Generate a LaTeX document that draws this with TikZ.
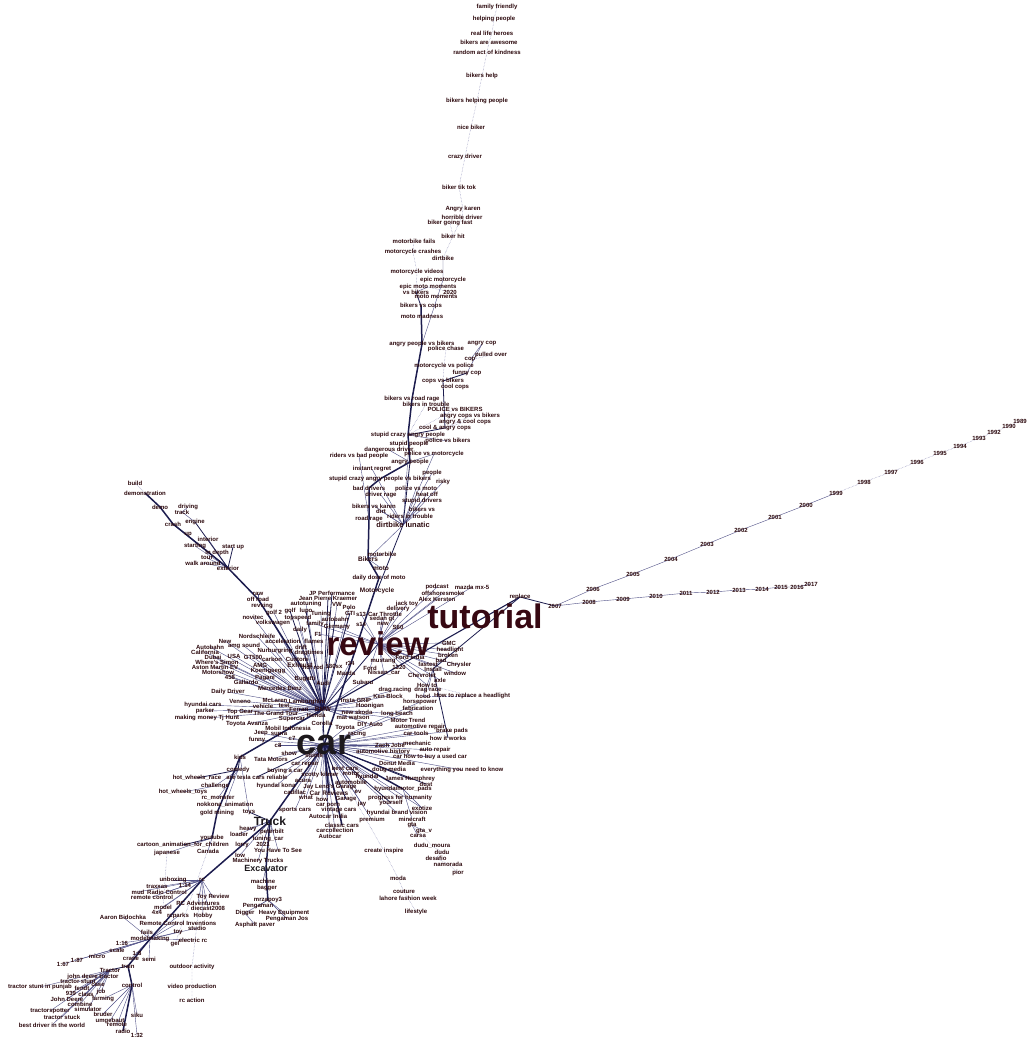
\documentclass[tikz,border=0pt]{standalone}
\usepackage{fontspec}
\setmainfont{Liberation Sans}
\usetikzlibrary{backgrounds}
\definecolor{tagtext}{RGB}{45,10,14}
\definecolor{hubtext}{RGB}{55,8,18}
\definecolor{cartext}{RGB}{28,24,28}
\definecolor{edgedark}{RGB}{28,28,78}
\definecolor{edgemid}{RGB}{80,80,135}
\definecolor{edgelight}{RGB}{130,130,178}
\tikzset{
  tag/.style={inner sep=0pt, text=tagtext, font=\bfseries\fontsize{6}{6}\selectfont},
  midtag/.style={tag, font=\bfseries\fontsize{7.5}{7.5}\selectfont},
  hub/.style={inner sep=0pt, text=hubtext, font=\bfseries\fontsize{33}{33}\selectfont},
  faintedge/.style={draw=edgelight, line width=0.45pt, densely dotted},
  thinedge/.style={draw=edgemid, line width=0.4pt},
  midedge/.style={draw=edgedark, line width=0.8pt},
  thickedge/.style={draw=edgedark, line width=1.5pt},
}
\begin{document}
\begin{tikzpicture}[x=1pt,y=-1pt]
        \useasboundingbox (0,0) rectangle (1035,1048);

        % hubs
        \node[inner sep=0pt, text=cartext, font=\bfseries\fontsize{36}{36}\selectfont] (car) at (324,745) {car};
        \node[hub] (review) at (378,644) {review};
        \node[hub, font=\bfseries\fontsize{34}{34}\selectfont] (tutorial) at (485,616) {tutorial};
        \node[tag, text=cartext, font=\bfseries\fontsize{12}{12}\selectfont] (truck) at (270,821) {Truck};
        \node[tag, text=cartext, font=\bfseries\fontsize{9}{9}\selectfont] (excavator) at (266,868) {Excavator};
        \node[midtag] (dirtlun) at (403,525) {dirtbike lunatic};

        % bikers chain
        \node[tag] (famfr) at (497,7) {family friendly};
        \node[tag] (helppp) at (494,19) {helping people};
        \node[tag] (heroes) at (492,33) {real life heroes};
        \node[tag] (awesome) at (489,42) {bikers are awesome};
        \node[tag] (kindness) at (487,52) {random act of kindness};
        \node[tag] (bhelp) at (482,76) {bikers help};
        \node[tag] (bhelppp) at (477,101) {bikers helping people};
        \node[tag] (nicebiker) at (471,127) {nice biker};
        \node[tag] (crazydrv) at (465,157) {crazy driver};
        \node[tag] (tiktok) at (459,187) {biker tik tok};
        \node[tag] (karen) at (463,209) {Angry karen};
        \node[tag] (horrible) at (462,217) {horrible driver};
        \node[tag] (bfast) at (450,223) {biker going fast};
        \node[tag] (bhit) at (453,236) {biker hit};
        \node[tag] (mbfails) at (414,241) {motorbike fails};
        \node[tag] (mccrash) at (413,252) {motorcycle crashes};
        \node[tag] (dirtbike) at (443,258) {dirtbike};
        \node[tag] (mcvideos) at (417,272) {motorcycle videos};
        \node[tag] (epicmc) at (443,280) {epic motorcycle};
        \node[tag] (epicmm) at (428,287) {epic moto moments};
        \node[tag] (vsbikers) at (416,292) {vs bikers};
        \node[tag] (y2020) at (450,292) {2020};
        \node[tag] (motomom) at (436,297) {moto moments};
        \node[tag] (bvscops) at (421,306) {bikers vs cops};
        \node[tag] (motomad) at (422,316) {moto madness};
        \node[tag] (apvsb) at (422,344) {angry people vs bikers};
        \node[tag] (angrycop) at (482,344) {angry cop};
        \node[tag] (polchase) at (446,349) {police chase};
        \node[tag] (pulled) at (491,355) {pulled over};
        \node[tag] (cop) at (470,360) {cop};
        \node[tag] (mcvspol) at (444,366) {motorcycle vs police};
        \node[tag] (funnycop) at (467,373) {funny cop};
        \node[tag] (copsvsb) at (443,381) {cops vs bikers};
        \node[tag] (coolcops) at (455,387) {cool cops};
        \node[tag] (bvsroad) at (412,399) {bikers vs road rage};
        \node[tag] (bintrbl) at (426,404) {bikers in trouble};
        \node[tag] (polvsb) at (455,409) {POLICE vs BIKERS};
        \node[tag] (acopsvsb) at (470,416) {angry cops vs bikers};
        \node[tag] (acoolcops) at (465,422) {angry \& cool cops};
        \node[tag] (coolacops) at (445,428) {cool \& angry cops};
        \node[tag] (scap) at (408,435) {stupid crazy angry people};
        \node[tag] (polvsbk) at (448,441) {police vs bikers};
        \node[tag] (stupidpp) at (409,444) {stupid people};
        \node[tag] (dangdrv) at (389,450) {dangerous driver};
        \node[tag] (ridersbad) at (359,456) {riders vs bad people};
        \node[tag] (polvsmc) at (434,454) {police vs motorcycle};
        \node[tag] (angrypp) at (410,462) {angry people};
        \node[tag] (instant) at (372,469) {instant regret};
        \node[tag] (people) at (432,473) {people};
        \node[tag] (scapvsb) at (380,479) {stupid crazy angry people vs bikers};
        \node[tag] (risky) at (443,482) {risky};
        \node[tag] (baddrv) at (369,488) {bad drivers};
        \node[tag] (polvsmoto) at (416,489) {police vs moto};
        \node[tag] (heatoff) at (427,494) {heat off};
        \node[tag] (drvrage) at (381,495) {driver rage};
        \node[tag] (stupiddrv) at (422,501) {stupid drivers};
        \node[tag] (bvskaren) at (374,506) {bikers vs karen};
        \node[tag] (bvs) at (422,509) {bikers vs};
        \node[tag] (dirt) at (381,511) {dirt};
        \node[tag] (ridersintr) at (410,516) {riders in trouble};
        \node[tag] (roadrage) at (369,519) {road rage};
        \node[tag] (motorbike) at (382,554) {motorbike};
        \node[midtag, font=\bfseries\fontsize{6.5}{6.5}\selectfont] (bikers) at (368,559) {Bikers};
        \node[midtag, font=\bfseries\fontsize{6.5}{6.5}\selectfont] (moto) at (381,568) {moto};
        \node[tag] (dailydose) at (379,578) {daily dose of moto};
        \node[midtag, font=\bfseries\fontsize{6.5}{6.5}\selectfont] (motorcycle) at (377,591) {Motorcycle};

        % above review
        \node[tag] (podcast) at (437,587) {podcast};
        \node[tag] (mazda) at (472,587) {mazda mx-5};
        \node[tag] (offshore) at (443,593) {offshoresmoke};
        \node[tag] (alex) at (437,599) {Alex Kersten};
        \node[tag] (jacktoy) at (407,604) {jack toy};
        \node[tag] (delivery) at (398,609) {delivery};
        \node[tag] (s13) at (361,614) {s13};
        \node[tag] (throttle) at (385,614) {Car Throttle};
        \node[tag] (sedangt) at (382,619) {sedan gt};
        \node[tag] (new) at (383,624) {new};
        \node[tag] (s14) at (361,624) {s14};
        \node[tag] (s60) at (398,627) {S60};
        \node[tag] (replace) at (520,597) {replace};

        % years
        \node[tag] (y1989) at (1020,421) {1989};
        \node[tag] (y1990) at (1009,426) {1990};
        \node[tag] (y1992) at (994,432) {1992};
        \node[tag] (y1993) at (979,438) {1993};
        \node[tag] (y1994) at (960,446) {1994};
        \node[tag] (y1995) at (940,453) {1995};
        \node[tag] (y1996) at (917,462) {1996};
        \node[tag] (y1997) at (891,472) {1997};
        \node[tag] (y1998) at (864,482) {1998};
        \node[tag] (y1999) at (836,493) {1999};
        \node[tag] (y2000) at (806,505) {2000};
        \node[tag] (y2001) at (775,517) {2001};
        \node[tag] (y2002) at (741,530) {2002};
        \node[tag] (y2003) at (707,544) {2003};
        \node[tag] (y2004) at (671,559) {2004};
        \node[tag] (y2005) at (633,574) {2005};
        \node[tag] (y2006) at (593,589) {2006};
        \node[tag] (y2007) at (555,606) {2007};
        \node[tag] (y2008) at (589,602) {2008};
        \node[tag] (y2009) at (623,599) {2009};
        \node[tag] (y2010) at (656,596) {2010};
        \node[tag] (y2011) at (686,593) {2011};
        \node[tag] (y2012) at (713,592) {2012};
        \node[tag] (y2013) at (739,590) {2013};
        \node[tag] (y2014) at (762,589) {2014};
        \node[tag] (y2015) at (781,587) {2015};
        \node[tag] (y2016) at (797,587) {2016};
        \node[tag] (y2017) at (811,584) {2017};

        % around review and tutorial
        \node[tag] (gmc) at (449,643) {GMC};
        \node[tag] (headlight) at (450,650) {headlight};
        \node[tag] (broken) at (448,655) {broken};
        \node[tag] (r34) at (350,663) {r34};
        \node[tag] (mustang) at (383,661) {mustang};
        \node[tag] (fordindia) at (410,657) {Ford India};
        \node[tag] (fastest) at (428,664) {fastest};
        \node[tag] (bad) at (441,660) {bad};
        \node[tag] (chrysler) at (459,665) {Chrysler};
        \node[tag] (ford) at (370,668) {Ford};
        \node[tag] (q1320) at (399,667) {1320};
        \node[tag] (install) at (433,669) {Install};
        \node[tag] (hotrod) at (313,667) {hot rod};
        \node[tag] (sx180) at (334,666) {180sx};
        \node[tag] (nissan) at (384,673) {Nissan\_car};
        \node[tag] (chevrolet) at (422,675) {Chevrolet};
        \node[tag] (window) at (455,673) {window};
        \node[tag] (mazdaa) at (346,673) {Mazda};
        \node[tag] (axle) at (440,680) {axle};
        \node[tag] (subaru) at (363,682) {Subaru};
        \node[tag] (audi) at (323,683) {Audi};
        \node[tag] (howto) at (427,685) {How to};
        \node[tag] (dragracing) at (395,690) {drag racing};
        \node[tag] (dragrc) at (428,690) {drag race};
        \node[tag] (kenblock) at (388,696) {Ken Block};
        \node[tag] (hood) at (423,696) {hood};
        \node[tag] (replhead) at (472,696) {How to replace a headlight};
        \node[tag] (instagrip) at (356,700) {Insta GRIP};
        \node[tag] (horsepower) at (420,702) {horsepower};
        \node[tag] (hoonigan) at (370,706) {Hoonigan};
        \node[tag] (fabrication) at (418,708) {fabrication};
        \node[tag] (newskoda) at (357,712) {new skoda};
        \node[tag] (longbeach) at (397,714) {long beach};
        \node[tag] (watson) at (353,718) {mat watson};
        \node[tag] (motortrend) at (408,720) {Motor Trend};
        \node[tag] (diyauto) at (370,724) {DIY Auto};
        \node[tag] (autorepair2) at (420,727) {automotive repair};
        \node[tag] (cartools) at (416,733) {car tools};
        \node[tag] (brakepads) at (452,731) {brake pads};
        \node[tag] (racing) at (357,734) {racing};
        \node[tag] (howworks) at (448,738) {how it works};
        \node[tag] (mechanic) at (417,743) {mechanic};
        \node[tag] (zach) at (390,745) {Zach Jobe};
        \node[tag] (autorepair) at (435,750) {auto repair};
        \node[tag] (autohist) at (383,752) {automotive history};
        \node[tag] (buyused) at (430,757) {car how to buy a used car};
        \node[tag] (donut) at (397,763) {Donut Media};
        \node[tag] (media) at (389,770) {doug media};
        \node[tag] (everything) at (462,770) {everything you need to know};
        \node[tag] (james) at (410,779) {James Humphrey};
        \node[tag] (dust) at (426,784) {dust};
        \node[tag] (hyundaipads) at (403,789) {hyundaimotor\_pads};
        \node[tag] (progress) at (400,798) {progress for humanity};
        \node[tag] (yourself) at (391,803) {yourself};
        \node[tag] (exotize) at (422,808) {exotize};
        \node[tag] (hbrand) at (397,813) {hyundai brand vision};
        \node[tag] (minecraft) at (412,819) {minecraft};
        \node[tag] (premium) at (372,820) {premium};
        \node[tag] (gta) at (412,825) {gta};
        \node[tag] (gtav) at (424,831) {gta\_v};
        \node[tag] (carsa) at (418,836) {carsa};
        \node[tag] (create) at (384,851) {create inspire};
        \node[tag] (dudum) at (432,846) {dudu\_moura};
        \node[tag] (dudu) at (442,852) {dudu};
        \node[tag] (desafio) at (436,858) {desafio};
        \node[tag] (namorada) at (448,864) {namorada};
        \node[tag] (pior) at (458,873) {pior};
        \node[tag] (moda) at (398,878) {moda};
        \node[tag] (couture) at (404,892) {couture};
        \node[tag] (lahore) at (408,898) {lahore fashion week};
        \node[tag] (lifestyle) at (416,912) {lifestyle};

        % below and left of car
        \node[tag] (toyavanza) at (247,724) {Toyota Avanza};
        \node[tag] (mobil) at (288,728) {Mobil Indonesia};
        \node[tag] (corolla) at (322,723) {Corolla};
        \node[tag] (toyota) at (345,728) {Toyota};
        \node[tag] (jeep) at (261,733) {Jeep};
        \node[tag] (supra) at (279,734) {supra};
        \node[tag] (funny) at (257,740) {funny};
        \node[tag] (c7) at (292,738) {c7};
        \node[tag] (c8) at (278,745) {c8};
        \node[tag] (show) at (289,753) {show};
        \node[tag] (tata) at (271,759) {Tata Motors};
        \node[tag] (stunts) at (314,756) {stunts};
        \node[tag] (carrepair) at (305,764) {car repair};
        \node[tag] (bestcars) at (345,768) {best cars};
        \node[tag] (buying) at (285,771) {buying a car};
        \node[tag] (teslarel) at (257,777) {are tesla cars reliable};
        \node[tag] (scotty) at (320,775) {scotty kilmer};
        \node[tag] (motor) at (351,774) {motor};
        \node[tag] (hyundai) at (367,777) {hyundai};
        \node[tag] (acura) at (303,781) {acura};
        \node[tag] (automobile) at (351,782) {automobile};
        \node[tag] (hkona) at (276,786) {hyundai kona};
        \node[tag] (jaygarage) at (330,787) {Jay Leno's Garage};
        \node[tag] (cadillac) at (295,792) {cadillac};
        \node[midtag, font=\bfseries\fontsize{6.5}{6.5}\selectfont] (carreviews) at (329,793) {Car Reviews};
        \node[tag] (ev) at (358,792) {ev};
        \node[tag] (what) at (306,797) {what};
        \node[tag] (how) at (322,799) {how};
        \node[tag] (garage) at (346,799) {Garage};
        \node[tag] (carporn) at (328,805) {car porn};
        \node[tag] (jay) at (362,804) {jay};
        \node[tag] (sportscars) at (295,810) {sports cars};
        \node[tag] (vintage) at (339,810) {vintage cars};
        \node[tag] (autocarindia) at (328,816) {Autocar India};
        \node[tag] (classic) at (342,825) {classic cars};
        \node[tag] (carcoll) at (335,830) {carcollection};
        \node[tag] (autocar) at (330,836) {Autocar};

        % trucks
        \node[tag] (heavy) at (248,829) {heavy};
        \node[tag] (loader) at (239,834) {loader};
        \node[tag] (peterbilt) at (272,832) {peterbilt};
        \node[tag] (tuningcar) at (268,839) {tuning\_car};
        \node[tag] (y2021) at (263,844) {2021};
        \node[tag] (youhave) at (278,850) {You Have To See};
        \node[tag] (low) at (240,855) {low};
        \node[tag] (machinery) at (258,861) {Machinery Trucks};
        \node[tag] (machine) at (263,881) {machine};
        \node[tag] (bagger) at (267,888) {bagger};
        \node[tag] (mrzapoy) at (268,900) {mrzapoy3};
        \node[tag] (pengaman) at (258,906) {Pengaman};
        \node[tag] (digger) at (245,913) {Digger};
        \node[tag] (heavyeq) at (284,913) {Heavy Equipment};
        \node[tag] (pengjos) at (287,919) {Pengaman Jos};
        \node[tag] (asphalt) at (255,925) {Asphalt paver};

        % kids
        \node[tag] (kids) at (240,757) {kids};
        \node[tag] (comedy) at (238,770) {comedy};
        \node[tag] (hwrace) at (197,778) {hot\_wheels\_race};
        \node[tag] (challenge) at (215,786) {challenge};
        \node[tag] (hwtoys) at (183,792) {hot\_wheels\_toys};
        \node[tag] (rcmonster) at (218,798) {rc\_monster};
        \node[tag] (nokkona) at (225,805) {nokkona\_animation};
        \node[tag] (goldmining) at (217,813) {gold mining};
        \node[tag] (toys) at (249,812) {toys};
        \node[tag] (youtube) at (212,838) {youtube};
        \node[tag] (cartoon) at (183,845) {cartoon\_animation\_for\_children};
        \node[tag] (lorry) at (242,845) {lorry};
        \node[tag] (japanese) at (167,853) {japanese};
        \node[tag] (canada) at (208,851) {Canada};

        % rc and tractors
        \node[tag] (unboxing) at (173,880) {unboxing};
        \node[tag] (rc) at (202,880) {rc};
        \node[tag] (r114) at (185,885) {1:14};
        \node[tag] (traxxas) at (157,887) {traxxas};
        \node[tag] (mud) at (138,892) {mud};
        \node[tag] (radioctl) at (167,892) {Radio Control};
        \node[tag] (toyreview) at (213,897) {Toy Review};
        \node[tag] (remotectl) at (152,897) {remote control};
        \node[tag] (rcadv) at (198,903) {RC Adventures};
        \node[tag] (model) at (163,907) {model};
        \node[tag] (diecast) at (208,908) {diecast2008};
        \node[tag] (x4) at (157,912) {4x4};
        \node[tag] (aaron) at (123,917) {Aaron Bidochka};
        \node[tag] (rcparks) at (178,916) {rcparks};
        \node[tag] (hobby) at (203,916) {Hobby};
        \node[tag] (rcinv) at (178,923) {Remote Control Inventions};
        \node[tag] (studio) at (197,928) {studio};
        \node[tag] (fails) at (147,932) {fails};
        \node[tag] (toy) at (178,932) {toy};
        \node[tag] (modelmaking) at (150,939) {modelmaking};
        \node[tag] (electricrc) at (193,940) {electric rc};
        \node[tag] (r116) at (122,943) {1:16};
        \node[tag] (gel) at (175,944) {gel};
        \node[tag] (scale) at (117,950) {scale};
        \node[tag] (r18) at (137,953) {1:8};
        \node[tag] (micro) at (97,956) {micro};
        \node[tag] (r187) at (77,960) {1:87};
        \node[tag] (crane) at (131,959) {crane};
        \node[tag] (semi) at (149,959) {semi};
        \node[tag] (r167) at (63,964) {1:67};
        \node[tag] (train) at (128,966) {train};
        \node[tag] (outdoor) at (192,967) {outdoor activity};
        \node[tag] (tractor) at (110,970) {Tractor};
        \node[tag] (jdtractor) at (93,977) {john deere tractor};
        \node[tag] (tstunt) at (78,982) {tractor stunt};
        \node[tag] (case) at (98,985) {case};
        \node[tag] (control) at (132,985) {control};
        \node[tag] (videoprod) at (192,987) {video production};
        \node[tag] (tstuntpunjab) at (40,987) {tractor stunt in punjab};
        \node[tag] (fendt) at (82,988) {fendt};
        \node[tag] (jcb) at (101,992) {jcb};
        \node[tag] (n939) at (71,993) {939};
        \node[tag] (claas) at (86,994) {claas};
        \node[tag] (johndeere) at (67,999) {John Deere};
        \node[tag] (farming) at (103,999) {farming};
        \node[tag] (rcaction) at (192,1000) {rc action};
        \node[tag] (combine) at (80,1004) {combine};
        \node[tag] (simulator) at (88,1009) {simulator};
        \node[tag] (tspotter) at (50,1011) {tractorspotter};
        \node[tag] (bruder) at (103,1014) {bruder};
        \node[tag] (siku) at (137,1015) {siku};
        \node[tag] (tstuck) at (62,1017) {tractor stuck};
        \node[tag] (umgebaut) at (110,1021) {umgebaut};
        \node[tag] (bestdriver) at (52,1025) {best driver in the world};
        \node[tag] (remote) at (117,1025) {remote};
        \node[tag] (radio) at (123,1031) {radio};
        \node[tag] (r132) at (137,1035) {1:32};

        % cars upper left
        \node[tag] (build) at (135,483) {build};
        \node[tag] (demonstration) at (145,493) {demonstration};
        \node[tag] (demo) at (160,507) {demo};
        \node[tag] (driving) at (188,507) {driving};
        \node[tag] (track) at (182,512) {track};
        \node[tag] (engine) at (195,522) {engine};
        \node[tag] (crash) at (173,524) {crash};
        \node[tag] (up) at (188,534) {up};
        \node[tag] (interior) at (208,539) {interior};
        \node[tag] (starting) at (195,546) {starting};
        \node[tag] (startup) at (233,547) {start up};
        \node[tag] (indepth) at (217,553) {in depth};
        \node[tag] (tour) at (207,558) {tour};
        \node[tag] (walkaround) at (203,563) {walk around};
        \node[tag] (exterior) at (228,568) {exterior};

        % brands left of review
        \node[tag] (raw) at (258,594) {raw};
        \node[tag] (offroad) at (258,599) {off road};
        \node[tag] (revving) at (262,606) {revving};
        \node[tag] (jpperf) at (332,593) {JP Performance};
        \node[tag] (jpk) at (328,598) {Jean Pierre Kraemer};
        \node[tag] (autotuning) at (306,604) {autotuning};
        \node[tag] (vw) at (337,604) {VW};
        \node[tag] (polo) at (349,607) {Polo};
        \node[tag] (golf2) at (274,613) {golf 2};
        \node[tag] (golf) at (290,611) {golf};
        \node[tag] (lupo) at (306,611) {lupo};
        \node[tag] (tuning) at (321,614) {Tuning};
        \node[tag] (gti) at (350,613) {GTI};
        \node[tag] (novitec) at (253,617) {novitec};
        \node[tag] (topspeed) at (298,618) {topspeed};
        \node[tag] (autobahn) at (335,619) {autobahn};
        \node[tag] (vwagen) at (273,623) {volkswagen};
        \node[tag] (family) at (315,624) {family};
        \node[tag] (germany) at (337,627) {Germany};
        \node[tag] (daily) at (300,630) {daily};
        \node[tag] (nords) at (257,636) {Nordschleife};
        \node[tag] (f1) at (318,634) {F1};
        \node[tag] (accel) at (283,641) {acceleration};
        \node[tag] (flames) at (314,641) {flames};
        \node[tag] (new2) at (225,641) {New};
        \node[tag] (autobahn2) at (210,647) {Autobahn};
        \node[tag] (amgsound) at (244,646) {amg sound};
        \node[tag] (drift) at (301,647) {drift};
        \node[tag] (california) at (205,652) {California};
        \node[tag] (nurburg) at (275,651) {Nurburgring};
        \node[tag] (dragtimes) at (309,653) {dragtimes};
        \node[tag] (dubai) at (213,657) {Dubai};
        \node[tag] (usa) at (234,656) {USA};
        \node[tag] (gt500) at (253,657) {GT500};
        \node[tag] (carbon) at (272,659) {carbon};
        \node[tag] (custom) at (297,659) {Custom};
        \node[tag] (wheresimon) at (217,662) {Where's Simon};
        \node[tag] (amg) at (260,665) {AMG};
        \node[midtag, font=\bfseries\fontsize{6.5}{6.5}\selectfont] (exhaust) at (300,665) {Exhaust};
        \node[tag] (astonev) at (215,667) {Aston Martin EV};
        \node[tag] (motorshow) at (218,672) {Motorshow};
        \node[tag] (koenigsegg) at (268,671) {Koenigsegg};
        \node[tag] (n458) at (230,677) {458};
        \node[tag] (pagani) at (265,678) {Pagani};
        \node[tag] (bugatti) at (305,679) {Bugatti};
        \node[tag] (gallardo) at (246,682) {Gallardo};
        \node[tag] (mercedes) at (280,688) {Mercedes Benz};
        \node[tag] (dailydriver) at (228,692) {Daily Driver};
        \node[tag] (mclaren) at (275,700) {McLaren};
        \node[tag] (veneno) at (240,701) {Veneno};
        \node[tag] (lambo) at (307,702) {Lamborghini};
        \node[tag] (hyundaicars) at (203,705) {hyundai cars};
        \node[tag] (vehicle) at (263,706) {vehicle};
        \node[tag] (test) at (284,706) {test};
        \node[tag] (ferrari) at (299,709) {Ferrari};
        \node[midtag, font=\bfseries\fontsize{6.5}{6.5}\selectfont] (bmw) at (323,709) {BMW};
        \node[tag] (parker) at (205,711) {parker};
        \node[tag] (topgear) at (240,712) {Top Gear};
        \node[tag] (grandtour) at (276,713) {The Grand Tour};
        \node[tag] (honda) at (316,715) {Honda};
        \node[tag] (making) at (207,718) {making money Tj Hunt};
        \node[tag] (supercar) at (292,719) {Supercar};

        \begin{scope}[on background layer]
        \fill[white] (0,0) rectangle (1035,1048);

        % faint chains
        \draw[faintedge] (famfr.center) -- (helppp.center) -- (heroes.center) -- (awesome.center) -- (kindness.center) -- (bhelp.center) -- (bhelppp.center) -- (nicebiker.center) -- (crazydrv.center) -- (tiktok.center) -- (karen.center) -- (horrible.center) -- (bhit.center) -- (dirtbike.center);
        \draw[faintedge] (bfast.center) -- (bhit.center);
        \draw[faintedge] (mbfails.center) -- (mccrash.center) -- (mcvideos.center) -- (vsbikers.center);
        \draw[faintedge] (epicmm.center) -- (y2020.center);
        \draw[faintedge] (pulled.center) -- (cop.center);
        \draw[faintedge] (polchase.center) -- (mcvspol.center) -- (copsvsb.center);
        \draw[faintedge] (bintrbl.center) -- (scap.center);
        \draw[faintedge] (polvsb.center) -- (scap.center);
        \draw[faintedge] (acopsvsb.center) -- (coolacops.center);
        \draw[faintedge] (acoolcops.center) -- (coolacops.center);
        \draw[faintedge] (howto.center) -- (replhead.center);
        \draw[faintedge] (hood.center) -- (replhead.center);
        \draw[faintedge] (car.center) -- (create.center) -- (moda.center) -- (couture.center) -- (lahore.center) -- (lifestyle.center);
        \draw[faintedge] (gta.center) -- (dudum.center) -- (dudu.center) -- (desafio.center) -- (namorada.center) -- (pior.center);
        \draw[faintedge] (rc.center) -- (outdoor.center) -- (videoprod.center) -- (rcaction.center);
        \draw[faintedge] (youtube.center) -- (gel.center);
        \draw[faintedge] (japanese.center) -- (model.center);
        \draw[faintedge] (demonstration.center) -- (build.center);

        % years
        \draw[thinedge] (y2007.center) -- (y2006.center) -- (y2005.center) -- (y2004.center) -- (y2003.center) -- (y2002.center) -- (y2001.center) -- (y2000.center) -- (y1999.center);
        \draw[faintedge] (y1999.center) -- (y1998.center) -- (y1997.center) -- (y1996.center) -- (y1995.center) -- (y1994.center) -- (y1993.center) -- (y1992.center) -- (y1990.center) -- (y1989.center);
        \draw[thinedge] (y2007.center) -- (y2008.center) -- (y2009.center) -- (y2010.center) -- (y2011.center) -- (y2012.center) -- (y2013.center) -- (y2014.center) -- (y2015.center) -- (y2016.center) -- (y2017.center);

        % thin edges
        \draw[thinedge] (dirtbike.center) -- (epicmc.center) -- (apvsb.center);
        \draw[thinedge] (vsbikers.center) -- (epicmm.center);
        \draw[thinedge] (angrycop.center) -- (cop.center);
        \draw[thinedge] (angrycop.center) -- (funnycop.center);
        \draw[thinedge] (scap.center) -- (polvsbk.center);
        \draw[thinedge] (angrypp.center) -- (polvsmc.center);
        \draw[thinedge] (dirtlun.center) -- (ridersintr.center);
        \draw[thinedge] (dirtlun.center) -- (bvs.center);
        \draw[thinedge] (dirtlun.center) -- (stupiddrv.center);
        \draw[thinedge] (dirtlun.center) -- (polvsmoto.center);
        \draw[thinedge] (dirtlun.center) -- (heatoff.center);
        \draw[thinedge] (dirtlun.center) -- (people.center);
        \draw[thinedge] (dirtlun.center) -- (risky.center);
        \draw[thinedge] (dirtlun.center) -- (dirt.center);
        \draw[thinedge] (dirtlun.center) -- (bvskaren.center);
        \draw[thinedge] (dirtlun.center) -- (drvrage.center);
        \draw[thinedge] (dirtlun.center) -- (stupidpp.center);
        \draw[thinedge] (dirtlun.center) -- (instant.center);
        \draw[thinedge] (dirtlun.center) -- (polvsmc.center);
        \draw[thinedge] (dirtlun.center) -- (bikers.center);
        \draw[thinedge] (ridersbad.center) -- (roadrage.center);
        \draw[thinedge] (dangdrv.center) -- (angrypp.center);
        \draw[thinedge] (bikers.center) -- (motorbike.center);
        \draw[thinedge] (bikers.center) -- (moto.center);
        \draw[thinedge] (review.center) -- (s13.center);
        \draw[thinedge] (review.center) -- (s14.center);
        \draw[thinedge] (review.center) -- (throttle.center);
        \draw[thinedge] (review.center) -- (sedangt.center);
        \draw[thinedge] (review.center) -- (new.center);
        \draw[thinedge] (review.center) -- (s60.center);
        \draw[thinedge] (review.center) -- (delivery.center);
        \draw[thinedge] (review.center) -- (jacktoy.center);
        \draw[thinedge] (review.center) -- (alex.center);
        \draw[thinedge] (review.center) -- (podcast.center);
        \draw[thinedge] (review.center) -- (offshore.center);
        \draw[thinedge] (review.center) -- (mazda.center);
        \draw[thinedge] (review.center) -- (gmc.center);
        \draw[thinedge] (review.center) -- (headlight.center);
        \draw[thinedge] (review.center) -- (broken.center);
        \draw[thinedge] (review.center) -- (mustang.center);
        \draw[thinedge] (review.center) -- (fordindia.center);
        \draw[thinedge] (review.center) -- (fastest.center);
        \draw[thinedge] (review.center) -- (chrysler.center);
        \draw[thinedge] (review.center) -- (window.center);
        \draw[thinedge] (review.center) -- (axle.center);
        \draw[thinedge] (review.center) -- (ford.center);
        \draw[thinedge] (review.center) -- (q1320.center);
        \draw[thinedge] (review.center) -- (nissan.center);
        \draw[thinedge] (review.center) -- (chevrolet.center);
        \draw[thinedge] (review.center) -- (howto.center);
        \draw[thinedge] (review.center) -- (germany.center);
        \draw[thinedge] (review.center) -- (f1.center);
        \draw[thinedge] (review.center) -- (family.center);
        \draw[thinedge] (bmw.center) -- (audi.center);
        \draw[thinedge] (bmw.center) -- (r34.center);
        \draw[thinedge] (bmw.center) -- (hotrod.center);
        \draw[thinedge] (bmw.center) -- (sx180.center);
        \draw[thinedge] (bmw.center) -- (mazdaa.center);
        \draw[thinedge] (bmw.center) -- (subaru.center);
        \draw[thinedge] (bmw.center) -- (supercar.center);
        \draw[thinedge] (bmw.center) -- (grandtour.center);
        \draw[thinedge] (bmw.center) -- (mclaren.center);
        \draw[thinedge] (bmw.center) -- (veneno.center);
        \draw[thinedge] (bmw.center) -- (dailydriver.center);
        \draw[thinedge] (bmw.center) -- (hyundaicars.center);
        \draw[thinedge] (bmw.center) -- (making.center);
        \draw[thinedge] (bmw.center) -- (parker.center);
        \draw[thinedge] (bmw.center) -- (topgear.center);
        \draw[thinedge] (bmw.center) -- (gallardo.center);
        \draw[thinedge] (bmw.center) -- (n458.center);
        \draw[thinedge] (bmw.center) -- (pagani.center);
        \draw[thinedge] (bmw.center) -- (bugatti.center);
        \draw[thinedge] (bmw.center) -- (mercedes.center);
        \draw[thinedge] (bmw.center) -- (motorshow.center);
        \draw[thinedge] (bmw.center) -- (astonev.center);
        \draw[thinedge] (bmw.center) -- (wheresimon.center);
        \draw[thinedge] (bmw.center) -- (amg.center);
        \draw[thinedge] (bmw.center) -- (custom.center);
        \draw[thinedge] (bmw.center) -- (carbon.center);
        \draw[thinedge] (bmw.center) -- (gt500.center);
        \draw[thinedge] (bmw.center) -- (usa.center);
        \draw[thinedge] (bmw.center) -- (dubai.center);
        \draw[thinedge] (bmw.center) -- (california.center);
        \draw[thinedge] (bmw.center) -- (autobahn2.center);
        \draw[thinedge] (bmw.center) -- (new2.center);
        \draw[thinedge] (bmw.center) -- (amgsound.center);
        \draw[thinedge] (bmw.center) -- (nurburg.center);
        \draw[thinedge] (bmw.center) -- (accel.center);
        \draw[thinedge] (bmw.center) -- (nords.center);
        \draw[thinedge] (bmw.center) -- (daily.center);
        \draw[thinedge] (bmw.center) -- (drift.center);
        \draw[thinedge] (bmw.center) -- (dragtimes.center);
        \draw[thinedge] (bmw.center) -- (koenigsegg.center);
        \draw[thinedge] (bmw.center) -- (instagrip.center);
        \draw[thinedge] (bmw.center) -- (hoonigan.center);
        \draw[thinedge] (bmw.center) -- (newskoda.center);
        \draw[thinedge] (bmw.center) -- (watson.center);
        \draw[thinedge] (bmw.center) -- (kenblock.center);
        \draw[thinedge] (bmw.center) -- (dragracing.center);
        \draw[thinedge] (bmw.center) -- (longbeach.center);
        \draw[thinedge] (bmw.center) -- (motortrend.center);
        \draw[thinedge] (bmw.center) -- (diyauto.center);
        \draw[thinedge] (bmw.center) -- (mobil.center);
        \draw[thinedge] (bmw.center) -- (toyavanza.center);
        \draw[thinedge] (bmw.center) -- (supra.center);
        \draw[thinedge] (bmw.center) -- (novitec.center);
        \draw[thinedge] (bmw.center) -- (vwagen.center);
        \draw[thinedge] (bmw.center) -- (golf2.center);
        \draw[thinedge] (bmw.center) -- (topspeed.center);
        \draw[thinedge] (bmw.center) -- (tuning.center);
        \draw[thinedge] (bmw.center) -- (autotuning.center);
        \draw[thinedge] (bmw.center) -- (vw.center);
        \draw[thinedge] (bmw.center) -- (polo.center);
        \draw[thinedge] (bmw.center) -- (flames.center);
        \draw[thinedge] (offroad.center) -- (raw.center);
        \draw[thinedge] (offroad.center) -- (revving.center);
        \draw[thinedge] (exterior.center) -- (interior.center);
        \draw[thinedge] (exterior.center) -- (tour.center);
        \draw[thinedge] (exterior.center) -- (walkaround.center);
        \draw[thinedge] (exterior.center) -- (indepth.center);
        \draw[thinedge] (exterior.center) -- (starting.center);
        \draw[thinedge] (engine.center) -- (track.center) -- (driving.center);
        \draw[thinedge] (car.center) -- (racing.center);
        \draw[thinedge] (car.center) -- (zach.center);
        \draw[thinedge] (car.center) -- (mechanic.center);
        \draw[thinedge] (car.center) -- (autorepair.center);
        \draw[thinedge] (car.center) -- (autohist.center);
        \draw[thinedge] (car.center) -- (buyused.center);
        \draw[thinedge] (car.center) -- (donut.center);
        \draw[thinedge] (car.center) -- (media.center);
        \draw[thinedge] (car.center) -- (everything.center);
        \draw[thinedge] (car.center) -- (progress.center);
        \draw[thinedge] (car.center) -- (exotize.center);
        \draw[thinedge] (car.center) -- (hbrand.center);
        \draw[thinedge] (car.center) -- (premium.center);
        \draw[thinedge] (car.center) -- (motor.center);
        \draw[thinedge] (car.center) -- (hyundai.center);
        \draw[thinedge] (car.center) -- (automobile.center);
        \draw[thinedge] (car.center) -- (bestcars.center);
        \draw[thinedge] (car.center) -- (scotty.center);
        \draw[thinedge] (car.center) -- (stunts.center);
        \draw[thinedge] (car.center) -- (carrepair.center);
        \draw[thinedge] (car.center) -- (show.center);
        \draw[thinedge] (car.center) -- (tata.center);
        \draw[thinedge] (car.center) -- (c8.center);
        \draw[thinedge] (car.center) -- (c7.center);
        \draw[thinedge] (car.center) -- (funny.center);
        \draw[thinedge] (car.center) -- (jeep.center);
        \draw[thinedge] (car.center) -- (buying.center);
        \draw[thinedge] (car.center) -- (acura.center);
        \draw[thinedge] (car.center) -- (hkona.center);
        \draw[thinedge] (car.center) -- (jaygarage.center);
        \draw[thinedge] (car.center) -- (cadillac.center);
        \draw[thinedge] (car.center) -- (ev.center);
        \draw[thinedge] (car.center) -- (what.center);
        \draw[thinedge] (car.center) -- (how.center);
        \draw[thinedge] (car.center) -- (garage.center);
        \draw[thinedge] (car.center) -- (carporn.center);
        \draw[thinedge] (car.center) -- (jay.center);
        \draw[thinedge] (car.center) -- (sportscars.center);
        \draw[thinedge] (car.center) -- (vintage.center);
        \draw[thinedge] (car.center) -- (autocarindia.center);
        \draw[thinedge] (car.center) -- (carcoll.center);
        \draw[thinedge] (car.center) -- (autocar.center);
        \draw[thinedge] (car.center) -- (cartools.center);
        \draw[thinedge] (car.center) -- (brakepads.center);
        \draw[thinedge] (car.center) -- (autorepair2.center);
        \draw[thinedge] (car.center) -- (toyota.center);
        \draw[thinedge] (car.center) -- (corolla.center);
        \draw[thinedge] (car.center) -- (horsepower.center);
        \draw[thinedge] (car.center) -- (fabrication.center);
        \draw[thinedge] (hyundaipads.center) -- (exotize.center);
        \draw[thinedge] (hyundaipads.center) -- (minecraft.center) -- (gta.center);
        \draw[thinedge] (gta.center) -- (gtav.center);
        \draw[thinedge] (gta.center) -- (carsa.center);
        \draw[thinedge] (install.center) -- (dragrc.center);
        \draw[thinedge] (install.center) -- (bad.center);
        \draw[thinedge] (install.center) -- (hood.center);
        \draw[thinedge] (excavator.center) -- (machine.center);
        \draw[thinedge] (mrzapoy.center) -- (pengaman.center);
        \draw[thinedge] (mrzapoy.center) -- (digger.center) -- (asphalt.center);
        \draw[thinedge] (mrzapoy.center) -- (heavyeq.center);
        \draw[thinedge] (mrzapoy.center) -- (pengjos.center);
        \draw[thinedge] (truck.center) -- (heavy.center);
        \draw[thinedge] (truck.center) -- (loader.center);
        \draw[thinedge] (truck.center) -- (peterbilt.center);
        \draw[thinedge] (truck.center) -- (tuningcar.center);
        \draw[thinedge] (truck.center) -- (y2021.center);
        \draw[thinedge] (truck.center) -- (youhave.center);
        \draw[thinedge] (truck.center) -- (low.center);
        \draw[thinedge] (truck.center) -- (machinery.center);
        \draw[thinedge] (truck.center) -- (lorry.center);
        \draw[thinedge] (kids.center) -- (toys.center);
        \draw[thinedge] (comedy.center) -- (challenge.center) -- (hwtoys.center);
        \draw[thinedge] (comedy.center) -- (rcmonster.center);
        \draw[thinedge] (comedy.center) -- (nokkona.center);
        \draw[thinedge] (youtube.center) -- (japanese.center);
        \draw[thinedge] (youtube.center) -- (canada.center);
        \draw[thinedge] (rc.center) -- (unboxing.center);
        \draw[thinedge] (rc.center) -- (r114.center);
        \draw[thinedge] (rc.center) -- (traxxas.center);
        \draw[thinedge] (rc.center) -- (radioctl.center);
        \draw[thinedge] (rc.center) -- (mud.center);
        \draw[thinedge] (rc.center) -- (remotectl.center);
        \draw[thinedge] (rc.center) -- (toyreview.center);
        \draw[thinedge] (rc.center) -- (rcadv.center);
        \draw[thinedge] (rc.center) -- (model.center);
        \draw[thinedge] (rc.center) -- (hobby.center);
        \draw[thinedge] (rc.center) -- (diecast.center);
        \draw[thinedge] (rc.center) -- (x4.center);
        \draw[thinedge] (modelmaking.center) -- (aaron.center);
        \draw[thinedge] (modelmaking.center) -- (rcinv.center);
        \draw[thinedge] (modelmaking.center) -- (rcparks.center);
        \draw[thinedge] (modelmaking.center) -- (fails.center);
        \draw[thinedge] (modelmaking.center) -- (r116.center);
        \draw[thinedge] (modelmaking.center) -- (scale.center);
        \draw[thinedge] (modelmaking.center) -- (micro.center);
        \draw[thinedge] (modelmaking.center) -- (r187.center);
        \draw[thinedge] (modelmaking.center) -- (r167.center);
        \draw[thinedge] (modelmaking.center) -- (electricrc.center);
        \draw[thinedge] (modelmaking.center) -- (studio.center);
        \draw[thinedge] (modelmaking.center) -- (toy.center);
        \draw[thinedge] (modelmaking.center) -- (r18.center);
        \draw[thinedge] (modelmaking.center) -- (semi.center);
        \draw[thinedge] (modelmaking.center) -- (crane.center);
        \draw[thinedge] (tractor.center) -- (jdtractor.center);
        \draw[thinedge] (tractor.center) -- (tstunt.center);
        \draw[thinedge] (tractor.center) -- (tstuntpunjab.center);
        \draw[thinedge] (tractor.center) -- (case.center);
        \draw[thinedge] (tractor.center) -- (fendt.center);
        \draw[thinedge] (tractor.center) -- (claas.center);
        \draw[thinedge] (tractor.center) -- (johndeere.center);
        \draw[thinedge] (tractor.center) -- (combine.center);
        \draw[thinedge] (tractor.center) -- (n939.center);
        \draw[thinedge] (tractor.center) -- (tspotter.center);
        \draw[thinedge] (tractor.center) -- (bestdriver.center);
        \draw[thinedge] (tractor.center) -- (tstuck.center);
        \draw[thinedge] (tractor.center) -- (simulator.center);
        \draw[thinedge] (tractor.center) -- (jcb.center);
        \draw[thinedge] (control.center) -- (farming.center);
        \draw[thinedge] (control.center) -- (umgebaut.center);
        \draw[thinedge] (control.center) -- (bruder.center);
        \draw[thinedge] (control.center) -- (siku.center);
        \draw[thinedge] (control.center) -- (r132.center);
        \draw[thinedge] (control.center) -- (remote.center);

        % mid edges
        \draw[midedge] (dirtlun.center) -- (motorcycle.center);
        \draw[midedge] (dirtlun.center) -- (angrypp.center);
        \draw[midedge] (scap.center) -- (coolacops.center) -- (copsvsb.center) -- (funnycop.center);
        \draw[midedge] (bvscops.center) -- (vsbikers.center);
        \draw[midedge] (exterior.center) -- (startup.center);
        \draw[midedge] (exterior.center) -- (engine.center);
        \draw[midedge] (replace.center) -- (y2007.center);
        \draw[midedge] (replace.center) -- (install.center) -- (howworks.center);
        \draw[midedge] (car.center) -- (yourself.center);
        \draw[midedge] (car.center) -- (dust.center);
        \draw[midedge] (car.center) -- (james.center);
        \draw[midedge] (car.center) -- (teslarel.center);
        \draw[midedge] (car.center) -- (garage.center);
        \draw[midedge] (kids.center) -- (comedy.center) -- (hwrace.center);
        \draw[midedge] (toys.center) -- (truck.center);
        \draw[midedge] (youtube.center) -- (cartoon.center);
        \draw[midedge] (train.center) -- (tractor.center);
        \draw[midedge] (bmw.center) -- (jpperf.center);
        \draw[midedge] (bmw.center) -- (jpk.center);
        \draw[midedge] (bmw.center) -- (gti.center);
        \draw[midedge] (bmw.center) -- (lambo.center);
        \draw[midedge] (bmw.center) -- (honda.center);
        \draw[midedge] (bmw.center) -- (ferrari.center);
        \draw[midedge] (bmw.center) -- (golf.center);
        \draw[midedge] (bmw.center) -- (lupo.center);
        \draw[midedge] (bmw.center) -- (autobahn.center);
        \draw[midedge] (bmw.center) -- (review.center);
        \draw[midedge] (bmw.center) -- (car.center);

        % thick edges
        \draw[thickedge] (car.center) -- (dailydose.center) -- (bikers.center) -- (roadrage.center) -- (baddrv.center) -- (scapvsb.center) -- (angrypp.center) -- (scap.center) -- (bvsroad.center) -- (apvsb.center) -- (bvscops.center);
        \draw[thickedge] (bmw.center) -- (exhaust.center) -- (offroad.center) -- (exterior.center) -- (crash.center) -- (demo.center) -- (demonstration.center);
        \draw[line width=1.1pt, edgedark] (bmw.center) -- (replace.center);
        \draw[thickedge] (car.center) -- (truck.center) -- (rc.center) -- (modelmaking.center) -- (train.center) -- (control.center) -- (radio.center);
        \draw[thickedge] (truck.center) -- (excavator.center) -- (bagger.center) -- (mrzapoy.center);
        \draw[thickedge] (car.center) -- (hyundaipads.center);
        \draw[thickedge] (car.center) -- (classic.center);
        \draw[thickedge] (car.center) -- (carreviews.center);
        \draw[thickedge] (bmw.center) -- (kids.center) -- (goldmining.center) -- (youtube.center);
        \end{scope}
\end{tikzpicture}
\end{document}
